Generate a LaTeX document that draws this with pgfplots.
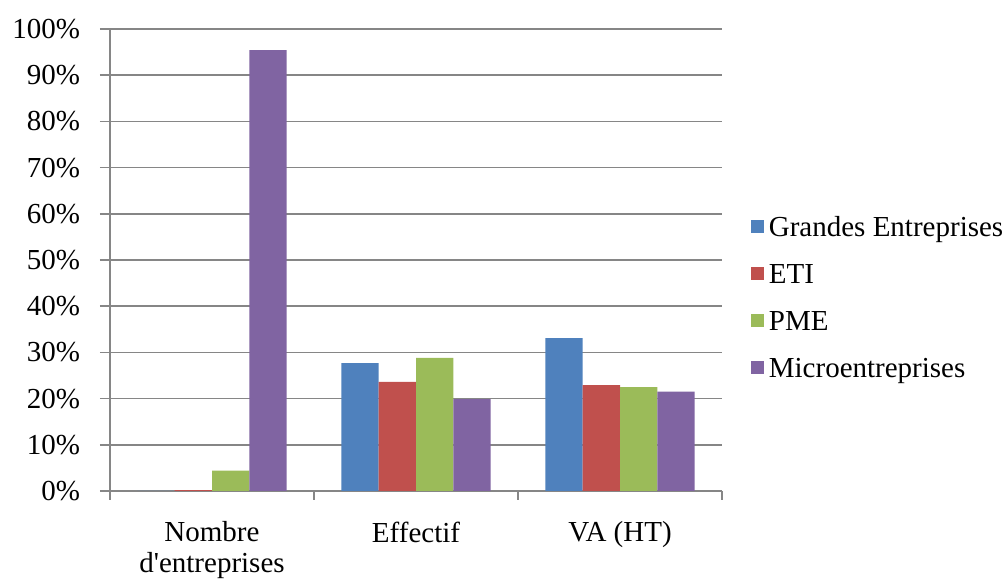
\documentclass[border=0pt]{standalone}
\usepackage{pgfplots}
\pgfplotsset{compat=1.18}
\usepackage{fontspec}
\setmainfont{Liberation Serif}
\definecolor{cGE}{HTML}{4F81BD}
\definecolor{cETI}{HTML}{C0504D}
\definecolor{cPME}{HTML}{9BBB59}
\definecolor{cMIC}{HTML}{8064A2}
\definecolor{gridc}{HTML}{868686}
\newcommand{\bigf}{\fontsize{29bp}{33bp}\selectfont}
\newcommand{\xf}{\fontsize{29bp}{31bp}\selectfont}
\pgfplotsset{sqleg/.style={legend image code/.code={\fill[##1,draw=none] (0bp,4bp) rectangle (13bp,17bp);}}}
\begin{document}
\bigf
\begin{tikzpicture}
\useasboundingbox (0,0) rectangle (1008bp,580bp);
\begin{axis}[
  at={(110bp,89bp)}, anchor=south west,
  scale only axis, width=612bp, height=462bp,
  xmin=-0.5, xmax=2.5, ymin=0, ymax=100,
  ybar=0pt, bar width=37.3bp,
  axis x line=bottom, axis y line=left,
  axis line style={draw=gridc, line width=1.5bp, -},
  tick align=outside,
  xtick={0,1,2},
  xticklabels={{Nombre\\d\textquotesingle entreprises},Effectif,{VA (HT)}},
  major x tick style={draw=none},
  minor xtick={-0.5,0.5,1.5,2.5},
  minor tick length=9bp,
  minor x tick style={draw=gridc, line width=1.5bp},
  major tick length=10bp,
  ytick={0,10,...,100},
  yticklabels={0\%,10\%,20\%,30\%,40\%,50\%,60\%,70\%,80\%,90\%,100\%},
  major y tick style={draw=gridc, line width=1.5bp},
  ymajorgrids,
  major grid style={draw=gridc, line width=1.5bp},
  xticklabel style={font=\xf, align=center, yshift=-11bp},
  yticklabel style={font=\bigf, xshift=-10bp},
  legend style={at={(1.042,0.413)}, anchor=west, draw=none, fill=none, font=\bigf,
    nodes={inner sep=0pt, text height=20bp, text depth=6bp, anchor=base west},
    row sep=21bp,
    /tikz/every odd column/.append style={column sep=5bp}},
]
\addplot[fill=cGE, draw=none, sqleg] coordinates {(0,0.02) (1,27.7) (2,33.1)};
\addplot[fill=cETI, draw=none, sqleg] coordinates {(0,0.2) (1,23.6) (2,22.9)};
\addplot[fill=cPME, draw=none, sqleg] coordinates {(0,4.4) (1,28.8) (2,22.5)};
\addplot[fill=cMIC, draw=none, sqleg] coordinates {(0,95.4) (1,19.9) (2,21.5)};
\legend{Grandes Entreprises,ETI,PME,Microentreprises}
\end{axis}
\end{tikzpicture}
\end{document}
